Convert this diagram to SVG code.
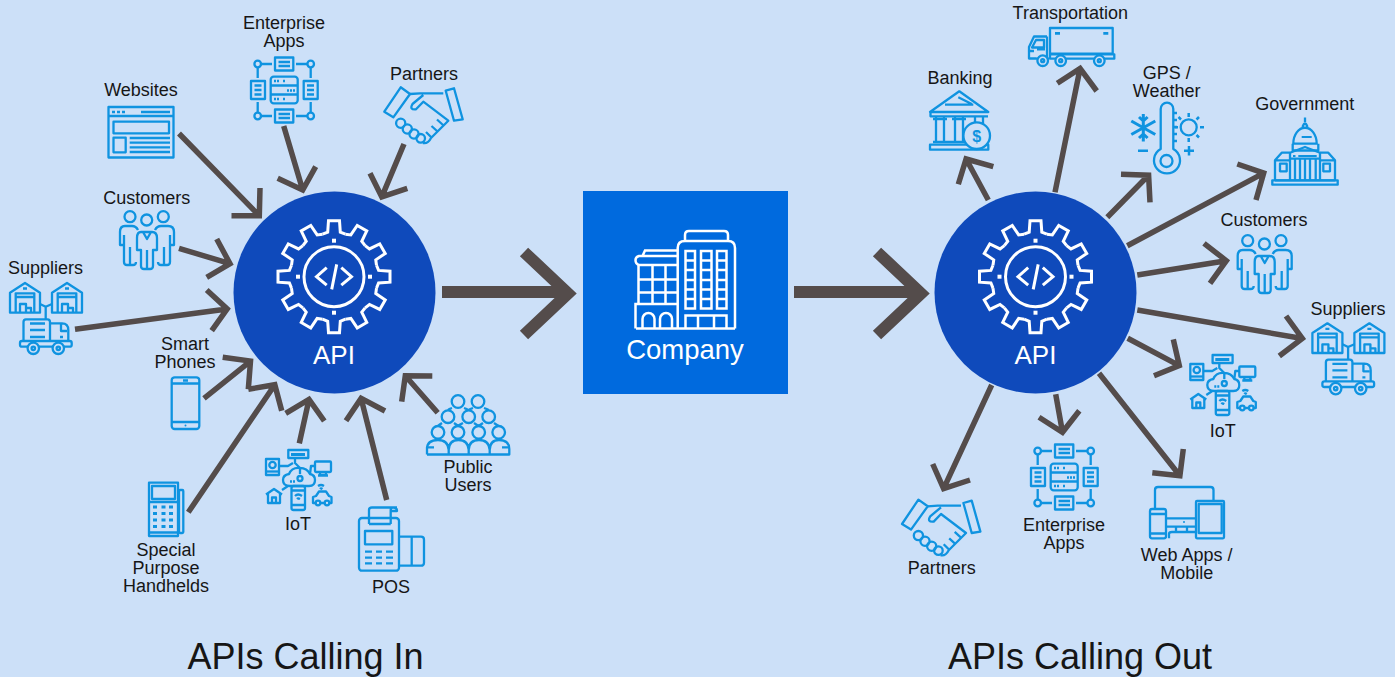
<svg xmlns="http://www.w3.org/2000/svg" width="1395" height="677" viewBox="0 0 1395 677">
<style>
.i{fill:none;stroke:#0f93e0;stroke-width:2.3;stroke-linejoin:round}
.o{fill:#cce0f8}
.f{fill:#0f93e0;stroke:none}
.w{fill:none;stroke:#fff;stroke-width:3}
.d{fill:#fff}
.c path{fill:none;stroke:#544c4b;stroke-width:5.5}
.b path{stroke-width:12}
text{font-family:"Liberation Sans",Arial,sans-serif;text-anchor:middle}
.l{font-size:18px;fill:#161616}
.a{font-size:26px;fill:#fff}
.t{font-size:36px;fill:#161616}
</style>
<defs>
<path id="tooth" d="M-11.4-42.5L-6.3-44.6L-5.5-56H5.5L6.3-44.6L11.4-42.5"/>
<g id="gear" class="w">
<use href="#tooth"/><use href="#tooth" transform="rotate(30)"/><use href="#tooth" transform="rotate(60)"/><use href="#tooth" transform="rotate(90)"/><use href="#tooth" transform="rotate(120)"/><use href="#tooth" transform="rotate(150)"/><use href="#tooth" transform="rotate(180)"/><use href="#tooth" transform="rotate(210)"/><use href="#tooth" transform="rotate(240)"/><use href="#tooth" transform="rotate(270)"/><use href="#tooth" transform="rotate(300)"/><use href="#tooth" transform="rotate(330)"/>
<circle r="30"/>
<path d="M-7.3-9L-17.5 0L-7.3 8.5M7.3-9L17.5 0L7.3 8.5M2.7-12.3L-2.3 12.7"/>
<rect class="d" stroke="none" x="-2" y="-38" width="4" height="4"/><rect class="d" stroke="none" x="-2" y="34" width="4" height="4"/><rect class="d" stroke="none" x="-38" y="-2" width="4" height="4"/><rect class="d" stroke="none" x="34" y="-2" width="4" height="4"/>
</g>
<g id="ent" class="i">
<rect x="275" y="57.5" width="18.3" height="13"/><path d="M278.5 62H290M278.5 66H290"/>
<rect x="275" y="109.5" width="18.3" height="13"/><path d="M278.5 114H290M278.5 118H290"/>
<rect x="251" y="81" width="14" height="18"/><path d="M254.5 85.5H261.5M254.5 90H261.5M254.5 94.5H261.5"/>
<rect x="303.7" y="81" width="14" height="18"/><path d="M307 85.5H314M307 90H314M307 94.5H314"/>
<rect x="270.7" y="76.7" width="27" height="26.6" rx="3"/><path d="M270.7 85.5H297.7M270.7 94.5H297.7"/>
<path d="M274 81H280M283 81H285M287 90.5H296M274 99H280M283 99H285" stroke-dasharray="2 1"/>
<circle cx="257.7" cy="64" r="3.3"/><circle cx="310.7" cy="64" r="3.3"/><circle cx="257.7" cy="116" r="3.3"/><circle cx="310.7" cy="116" r="3.3"/>
<path d="M261 64H272M296 64H307.4M261 116H272M296 116H307.4M257.7 67.3V78M310.7 67.3V78M257.7 102V112.7M310.7 102V112.7"/>
</g>
<g id="shake" class="i">
<path d="M400.7 87.3L410 94L393.3 117.3L384.3 111.700Z"/>
<path d="M445.7 90.700L454 88.300L462.700 119.300L454 120.700Z"/>
<path d="M410 94L420 93.300H443.300M423.300 95L412.500 104Q409 110 416 109.300L423.300 101.700L448.300 120.700L431 138Q428 144 423 143M443 125L437 119.500M437 131L431.500 126M431 137L426 132"/>
<circle cx="400.700" cy="123.300" r="4.600"/><circle cx="407.300" cy="129" r="4.600"/><circle cx="414" cy="134" r="4.600"/><circle cx="420.700" cy="138.300" r="4.300"/>
</g>
<g id="cust" class="i">
<circle cx="130" cy="216.700" r="5.500"/><circle cx="146.700" cy="220" r="5.500"/><circle cx="163.300" cy="216.700" r="5.500"/>
<path d="M138 230Q136 226 132 226H125Q120 226 120 232V245H124V262Q124 265 127 265H133Q136 265 136 262M130 247V264M124 245V235"/>
<path d="M155 230Q157 226 161 226H168Q174 226 174 232V245H170V262Q170 265 167 265H161Q158 265 158 262M164 247V264M170 245V235"/>
<path d="M141 232H152Q157 232 157 238V250H153V266Q153 269 150 269H144Q141 269 141 266V250H137V238Q137 232 141 232ZM147 250V268M143 232L147 239L151 232"/>
</g>
<g id="ware" class="i">
<path d="M10 312.700V292.700L25 283L40 292.700V312.700ZM15.700 312.700V293.300H34.300V312.700M15.700 297H34.300M23 288.500H27M20 312.700V304H26V312.700M26 308H31V312.700"/>
</g>
<g id="supp">
<use href="#ware"/><use href="#ware" x="42"/>
<g class="i">
<path d="M40 304L45.700 306.700L52 304M45.700 306.700V319"/>
<path d="M23.500 341V322Q23.500 319.300 26 319.300H47.500Q50 319.300 50 322V341M50 323.300H62Q68.300 323.300 68.300 330V341M30 323.500H45M30 330H45M30 337H45M61 324V331H67M60 337H63"/>
<rect x="20" y="341" width="51.700" height="5.700" rx="2"/>
<circle class="o" cx="33.300" cy="348.300" r="5.700"/><circle class="o" cx="58.300" cy="348.300" r="5.700"/>
<circle cx="33.300" cy="348.300" r="1.700"/><circle cx="58.300" cy="348.300" r="1.700"/>
</g>
</g>
<g id="iot" class="i">
<rect x="288.300" y="450" width="20" height="8"/><path class="f" d="M291 453H305V456H291Z"/>
<rect x="266" y="459" width="13" height="16"/><circle cx="272.500" cy="465" r="3.200"/><path d="M266 471.500H279"/>
<rect x="315" y="461.500" width="16" height="10.500" rx="1"/><path d="M320 472V475H326V472M318 475.500H328"/>
<path d="M290 486Q283 486 283 480Q283 475 289 474Q292 467 300 468Q307 468 310 474Q315 475 315 480Q315 486 309 486Z"/>
<path d="M279 466H288L293 463M295 458V463L300 468V474M310 474L311 466H315"/>
<circle cx="300" cy="478.500" r="2.500"/><path d="M290 481.500H295" stroke-dasharray="2 1"/>
<rect x="291.500" y="486" width="13.500" height="24" rx="2"/><path d="M291.500 490.500H305M291.500 505H305M295 496Q298 493 302 496M297 499Q298 498 300 499"/>
<path d="M266 494.500L274 489L282 494.500M268 493V503H280V493M272 503V497.500H276V503M282 490L288 486"/>
<path d="M313 503V497L316 496L319 491.500H326L329 496L331.500 497V503Z"/><circle class="o" cx="318" cy="503" r="2.300"/><circle class="o" cx="327" cy="503" r="2.300"/>
<path d="M318 486Q321 484 324 486M320 489Q321 488 322.500 489"/>
</g>
</defs>
<rect width="1395" height="677" fill="#cce0f8"/>
<g id="connectors" class="c">
<path d="M179 133.500L259.300 215.800M260 188L259.300 215.800L231.500 215.700"/>
<path d="M283.700 126L302.700 190M315.700 166.700L302.700 190L277.700 178.300"/>
<path d="M404 144L381.800 196.900M370 173.300L381.800 196.900L407.300 188.300"/>
<path d="M179 248.300L230 263.700M216.700 239L230 263.700L206.700 277.300"/>
<path d="M75 329.300L227.200 308.900M206.700 290L227.200 308.900L211.700 330.700"/>
<path d="M204 398.300L250.500 361.100M222.700 357.300L250.500 361.100L248.300 389.300"/>
<path d="M188.300 512.300L274.800 384.700M248.300 389.300L274.800 384.700L281.700 410.700"/>
<path d="M299.300 443.300L309 399.400M285.700 413.300L309 399.400L324.300 421"/>
<path d="M386.700 500L361.100 398.400M346 420.700L361.100 398.400L385 411"/>
<path d="M437.700 412.700L405.300 375.700M401.700 401.700L405.300 375.700L432.300 376"/>
<path d="M988.300 200L966.100 159M958.300 184.300L966.100 159L993.300 166.700"/>
<path d="M1055 192.300L1080.100 68.400M1057.300 83.300L1080.100 68.400L1096.700 91"/>
<path d="M1107.300 217.300L1148.600 175.200M1121 174.300L1148.600 175.200L1150 202.300"/>
<path d="M1127.300 245.700L1263.700 173.100M1237.300 164L1263.700 173.100L1256 200"/>
<path d="M1137.300 275L1226.300 260.700M1204 243.300L1226.300 260.700L1210 283.300"/>
<path d="M1137.300 310L1302.300 338.500M1286 316L1302.300 338.500L1279.300 356"/>
<path d="M1127.700 338.300L1179.300 365.600M1173.300 339.300L1179.300 365.600L1154 375.700"/>
<path d="M1099 373.300L1179.900 475.800M1183.300 449L1179.900 475.800L1152.300 472.700"/>
<path d="M1055.700 394.300L1062.500 432.300M1039 417.300L1062.500 432.300L1079.300 410.700"/>
<path d="M991.700 385L943.600 488.600M932.700 464L943.600 488.600L970 480"/>
<g class="b">
<path d="M442 292H566M524 252L568 293.500L524 335"/>
<path d="M794 292H919M877 252L921 293.500L877 335"/>
</g>
</g>
<g id="api-in">
<circle cx="334.500" cy="292.500" r="101" fill="#0f4abb"/>
<use href="#gear" transform="translate(334 276.700)"/>
<text class="a" x="334" y="363.500">API</text>
</g>
<g id="api-out">
<circle cx="1035.500" cy="292.500" r="101" fill="#0f4abb"/>
<use href="#gear" transform="translate(1035.500 276.700)"/>
<text class="a" x="1035.500" y="363.500">API</text>
</g>
<g id="company">
<rect x="583" y="191" width="205" height="203" fill="#006ade"/>
<g fill="none" stroke="#fff" stroke-width="2.500">
<path d="M636 328.500H735M677.700 328.500V248Q677.700 241 685 241H728Q735 241 735 248V328.500M685 241V235Q685 231 689 231H724Q728 231 728 235V241"/>
<rect x="685.500" y="251" width="9.500" height="57.500"/><rect x="701" y="251" width="10.500" height="57.500"/><rect x="717" y="251" width="9.500" height="57.500"/>
<path d="M685.500 260.500H695M685.500 270H695M685.500 280H695M685.500 289.500H695M685.500 299H695M701 260.500H711.500M701 270H711.500M701 280H711.500M701 289.500H711.500M701 299H711.500M717 260.500H726.500M717 270H726.500M717 280H726.500M717 289.500H726.500M717 299H726.500"/>
<path d="M685.500 328.500V315.500H726.500V328.500M698 315.500V328.500M714 315.500V328.500"/>
<path d="M677.700 250.500H645L642.500 256H677.700M642.500 256H639Q635.500 257 635.500 260Q635.500 264 639 265H677.700"/>
<path d="M638.500 265V304M652.500 265V304M665.500 265V304M638.500 279.500H677.700M638.500 292.500H677.700"/>
<path d="M635.500 328.500V304H677.700"/>
<path d="M642.500 328.500V319A6 6 0 0 1 654.500 319V328.500M660 328.500V319A6 6 0 0 1 672 319V328.500"/>
</g>
<text x="685" y="358.500" font-size="27.500" fill="#fff">Company</text>
</g>
<g id="in-enterprise"><use href="#ent"/><text class="l" x="284" y="29">Enterprise</text><text class="l" x="284" y="47">Apps</text></g>
<g id="in-websites">
<g class="i"><rect x="108.500" y="107" width="65" height="50.500"/><path d="M108.500 116H173.500M141 112H170"/><rect x="113.500" y="121.700" width="55.500" height="11.600"/><rect x="113.500" y="137.700" width="12.200" height="14.600"/><path d="M129.700 138H170M129.700 142.700H170M129.700 147.300H170M129.700 152H170M112 112H115M117 112H120M122 112H125"/></g>
<text class="l" x="141" y="96">Websites</text>
</g>
<g id="in-partners"><use href="#shake"/><text class="l" x="424" y="80">Partners</text></g>
<g id="in-customers"><use href="#cust"/><text class="l" x="146.700" y="204">Customers</text></g>
<g id="in-suppliers"><use href="#supp"/><text class="l" x="45.500" y="274">Suppliers</text></g>
<g id="in-phones">
<g class="i"><rect x="171.700" y="377.300" width="27.600" height="51.700" rx="3"/><path d="M171.700 383.500H199.300M171.700 422H199.300M183 380.500H188"/><circle class="f" cx="185.500" cy="425.500" r="1"/></g>
<text class="l" x="185" y="350">Smart</text><text class="l" x="185" y="368">Phones</text>
</g>
<g id="in-handheld">
<g class="i"><rect x="149" y="482.700" width="29" height="53.300"/><rect x="152" y="486" width="23" height="13"/><rect x="179" y="490" width="4.300" height="43" rx="1"/><path d="M149 502H178M149 532.500H178"/>
<path d="M153 507H157M161.500 507H165.500M169 507H173M153 513.500H157M161.500 513.500H165.500M169 513.500H173M153 520H157M161.500 520H165.500M169 520H173M153 526.500H157M161.500 526.500H165.500M169 526.500H173" stroke-width="3"/></g>
<text class="l" x="166" y="556">Special</text><text class="l" x="166" y="574">Purpose</text><text class="l" x="166" y="592">Handhelds</text>
</g>
<g id="in-iot"><use href="#iot"/><text class="l" x="298" y="530">IoT</text></g>
<g id="in-pos">
<g class="i"><rect x="359" y="518" width="40" height="52.700" rx="3"/><path d="M369 524V510Q369 507.500 372 507.500H397M390.700 524V510Q390.700 507.500 393 507.500Q397 507.500 397 511H390.700M369 524H390.700"/><rect x="365" y="531" width="27.300" height="13.300"/>
<path d="M365 551.700H372M376 551.700H382M386 551.700H393M365 557.700H372M376 557.700H382M386 557.700H393M365 563.300H372M376 563.300H382M386 563.300H393"/>
<path d="M399 536.700H421Q424 536.700 424 539.700V562.700Q424 565.700 421 565.700H399M411.700 536.700V565.700"/></g>
<text class="l" x="391" y="592.700">POS</text>
</g>
<g id="in-public">
<g class="i"><circle cx="458" cy="401.500" r="6.300"/><circle cx="478" cy="401.500" r="6.300"/><circle cx="448" cy="416.700" r="6.300"/><circle cx="468.700" cy="416.700" r="6.300"/><circle cx="488.700" cy="416.700" r="6.300"/><circle cx="438" cy="432.300" r="6.300"/><circle cx="458" cy="432.300" r="6.300"/><circle cx="478.700" cy="432.300" r="6.300"/><circle cx="498.700" cy="432.300" r="6.300"/>
<path d="M452 408Q449 409 448 410M464 408Q467 409 468 410M473 408Q470 409 468.700 410M484 408Q487 409 488.700 410M442 423Q439 425 438 426M454 423Q457 425 458 426M463 423Q459 425 458 426M474 423Q477 425 478.700 426M483 423Q480 425 478.700 426M494 423Q497 425 498.700 426"/>
<path d="M427 454.500V449Q427 440 438 440Q448 440 448.700 450V454.500M448.700 450Q449 440 458.500 440Q468 440 468.700 450V454.500M468.700 450Q469 440 479 440Q489 440 489.700 450V454.500M489.700 450Q490 440 499 440Q509.300 440 509.300 449V454.500H427M427 447.300H434M502 447.300H509.300"/></g>
<text class="l" x="468" y="472.700">Public</text><text class="l" x="468" y="490.700">Users</text>
</g>
<g id="out-transport">
<g class="i"><rect x="1050" y="28" width="62.700" height="25.700"/><path d="M1050 54.300H1114.300V58.700H1050ZM1047 36.500H1034L1029 47V58.500H1036.500M1047 36.500V58.700M1032 47.500L1036 40H1044V47.500ZM1030 51H1034M1049 58.700H1036"/>
<path class="f" d="M1055 32H1060V34.700H1055ZM1103.300 32H1108.300V34.700H1103.300ZM1037 47.500H1045V50.500H1037Z"/>
<circle class="o" cx="1042.700" cy="60.700" r="5.300"/><circle class="o" cx="1060.700" cy="60.700" r="5.300"/><circle class="o" cx="1099.300" cy="60.700" r="5.300"/>
<circle cx="1042.700" cy="60.700" r="1.500"/><circle cx="1060.700" cy="60.700" r="1.500"/><circle cx="1099.300" cy="60.700" r="1.500"/></g>
<text class="l" x="1070.300" y="19">Transportation</text>
</g>
<g id="out-banking">
<g class="i"><path d="M930 112L959.300 91.300L988.300 112ZM930.500 112V116.300H988M945 104.700H973.300M958.300 97.300L971.700 104"/>
<path d="M936 116.300V142H944V116.300M955 116.300V142H963V116.300M975 116.300V124M983 116.300V124M933 119H947M952 119H966M933 142H967"/><rect x="930" y="144.700" width="58.300" height="5"/>
<circle class="o" cx="976.700" cy="135.700" r="13.300"/></g>
<text x="976.700" y="141.500" font-size="16" font-weight="bold" fill="#0f93e0">$</text>
<text class="l" x="960" y="84">Banking</text>
</g>
<g id="out-gps">
<g class="i">
<path d="M1160.700 149V109A6.300 6.300 0 0 1 1173.300 109V149A13 13 0 1 1 1160.700 149Z"/><circle cx="1166.500" cy="161" r="6"/>
<path d="M1173.300 113H1177M1173.300 120H1177M1173.300 127H1177M1173.300 134H1177M1173.300 141H1177"/>
<path stroke-width="3" d="M1143.300 114V141.500M1131.300 121L1155.300 134.500M1131.300 134.500L1155.300 121M1139 117L1143.300 121L1147.600 117M1139 138L1143.300 134L1147.600 138"/>
<circle cx="1188.700" cy="127.300" r="8"/>
<path stroke-width="2.500" d="M1188.700 113V117M1188.700 138V142M1174.500 127.300H1178M1200 127.300H1204M1178.500 117L1181 119.500M1196.500 135L1199 137.500M1199 117L1196.500 119.500"/>
<path stroke-width="2.500" d="M1138 150.700H1148M1184 150.700H1194M1189 146V155.500"/>
</g>
<text class="l" x="1166.700" y="78.700">GPS /</text><text class="l" x="1166.700" y="96.700">Weather</text>
</g>
<g id="out-government">
<g class="i"><path d="M1305 117.500V122M1302.500 127Q1305 120 1307.500 127M1293.300 143.700A11.700 16 0 0 1 1316.700 143.700ZM1292.700 143.700V150.500H1318.300V143.700"/>
<path d="M1275 180.300V160.300L1281.700 152.700H1290M1320 152.700H1328.300L1335 160.300V180.300H1275M1290 152.700L1305 147L1320 152.700V180.300M1290 152.700V180.300M1290 158.700H1320M1295 158.700V180.300M1300 158.700V180.300M1305 158.700V180.300M1310 158.700V180.300M1315.700 158.700V180.300M1275 160.300H1290M1320 160.300H1335"/>
<rect x="1280" y="163.700" width="6.700" height="7.600"/><rect x="1323.300" y="163.700" width="6.700" height="7.600"/><rect x="1272.300" y="180.300" width="65.400" height="4.400"/><path class="f" d="M1298.300 155H1316.700V157H1298.300ZM1293 155H1295.500V157H1293ZM1301.700 136H1311.700V138H1301.700Z"/></g>
<text class="l" x="1304.700" y="110">Government</text>
</g>
<g id="out-customers"><use href="#cust" transform="translate(1117.700 24)"/><text class="l" x="1264" y="226">Customers</text></g>
<g id="out-suppliers"><use href="#supp" transform="translate(1302.400 40.300)"/><text class="l" x="1348" y="315">Suppliers</text></g>
<g id="out-iot"><use href="#iot" transform="translate(924.300 -95)"/><text class="l" x="1222.700" y="436.700">IoT</text></g>
<g id="out-web">
<g class="i"><path d="M1155 509V490Q1155 487 1158 487H1210.500Q1213.500 487 1213.500 490V501"/><rect x="1150" y="509" width="16" height="29.300" rx="2"/><path d="M1150 514H1166M1150 533.500H1166"/><rect x="1196" y="501" width="28" height="37.300" rx="1"/><rect x="1198.700" y="504" width="23" height="29"/><path d="M1166.700 518.300H1196M1166.700 526.700H1196M1176 526.700V532M1187 526.700V532M1169 538.300V534Q1169 532 1172 532H1196"/><circle class="f" cx="1184" cy="522" r="1"/></g>
<text class="l" x="1186.700" y="561">Web Apps /</text><text class="l" x="1186.700" y="579">Mobile</text>
</g>
<g id="out-enterprise"><use href="#ent" transform="translate(780 387)"/><text class="l" x="1064" y="531">Enterprise</text><text class="l" x="1064" y="549">Apps</text></g>
<g id="out-partners"><use href="#shake" transform="translate(517.700 412.300)"/><text class="l" x="941.700" y="574">Partners</text></g>
<g id="titles"><text class="t" x="305.500" y="669">APIs Calling In</text><text class="t" x="1080" y="669">APIs Calling Out</text></g>
</svg>
